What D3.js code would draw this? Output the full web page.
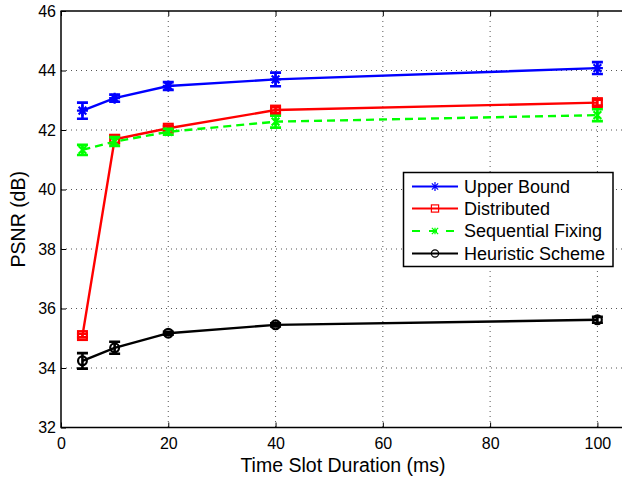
<!DOCTYPE html>
<html>
<head>
<meta charset="utf-8">
<script src="https://cdn.jsdelivr.net/npm/d3@7"></script>
<style>
  html, body { margin: 0; padding: 0; background: #fff; }
  svg { display: block; font-family: "Liberation Sans", Arial, Helvetica, sans-serif; }
</style>
</head>
<body>
<svg id="chart" width="622" height="477"></svg>
<script>
// Time slot durations (ms)
const slotDurations = [4, 10, 20, 40, 100];

// Mean PSNR (dB) per scheme
const upperBound = [42.65, 43.07, 43.48, 43.70, 44.08];
const distributed = [35.09, 41.69, 42.06, 42.67, 42.92];
const sequentialFixing = [41.33, 41.61, 41.94, 42.28, 42.50];
const heuristicScheme = [34.24, 34.68, 35.17, 35.45, 35.62];

// Half-width of the confidence interval (dB)
const upperBoundErr = [0.27, 0.12, 0.13, 0.23, 0.20];
const distributedErr = [0.06, 0.12, 0.07, 0.10, 0.10];
const sequentialFixingErr = [0.17, 0.15, 0.10, 0.20, 0.20];
const heuristicSchemeErr = [0.26, 0.20, 0.05, 0.05, 0.10];

const seriesNames = ["Upper Bound", "Distributed", "Sequential Fixing", "Heuristic Scheme"];
const xTicks = [0, 20, 40, 60, 80, 100];
const yTicks = [32, 34, 36, 38, 40, 42, 44, 46];

const series = [
  { name: seriesNames[0], values: upperBound, err: upperBoundErr, color: "#0000ff", marker: "star", dash: null },
  { name: seriesNames[1], values: distributed, err: distributedErr, color: "#ff0000", marker: "square", dash: null },
  { name: seriesNames[2], values: sequentialFixing, err: sequentialFixingErr, color: "#00ff00", marker: "x", dash: "8,5" },
  { name: seriesNames[3], values: heuristicScheme, err: heuristicSchemeErr, color: "#000000", marker: "circle", dash: null }
];

const svg = d3.select("#chart");
const plotLeft = 61, plotTop = 11, plotBottom = 427.5, plotRight = 640;
const x = d3.scaleLinear().domain([0, 100]).range([plotLeft, 597.4]);
const y = d3.scaleLinear().domain([32, 46]).range([plotBottom, plotTop]);

// Dotted grid
const grid = svg.append("g").attr("stroke", "#555").attr("stroke-width", 1)
  .attr("stroke-dasharray", "1,4");
xTicks.filter(t => t > 0).forEach(t => {
  grid.append("line").attr("x1", x(t)).attr("x2", x(t)).attr("y1", plotTop).attr("y2", plotBottom);
});
yTicks.filter(t => t > 32 && t < 46).forEach(t => {
  grid.append("line").attr("x1", plotLeft).attr("x2", plotRight).attr("y1", y(t)).attr("y2", y(t));
});

// Axes with inward ticks
const xAxis = svg.append("g").attr("transform", `translate(0,${plotBottom})`)
  .call(d3.axisBottom(x).tickValues(xTicks).tickSizeInner(-5).tickSizeOuter(0).tickPadding(12));
const xAxisTop = svg.append("g").attr("transform", `translate(0,${plotTop})`)
  .call(d3.axisTop(x).tickValues(xTicks).tickSizeInner(-5).tickSizeOuter(0).tickFormat(""));
const yAxis = svg.append("g").attr("transform", `translate(${plotLeft},0)`)
  .call(d3.axisLeft(y).tickValues(yTicks).tickSizeInner(-5).tickSizeOuter(0).tickPadding(5));
[xAxis, xAxisTop, yAxis].forEach(g => {
  g.select(".domain").remove();
  g.selectAll(".tick line").attr("stroke", "#000").attr("stroke-width", 1);
  g.selectAll("text").attr("font-size", 16).attr("fill", "#000")
    .attr("font-family", "Liberation Sans, Arial, sans-serif");
});
xAxis.selectAll("text").attr("dy", "0.6em");
svg.append("line").attr("x1", plotLeft - 0.5).attr("x2", plotRight).attr("y1", plotBottom).attr("y2", plotBottom)
  .attr("stroke", "#000").attr("stroke-width", 1.5);
svg.append("line").attr("x1", plotLeft - 0.5).attr("x2", plotRight).attr("y1", plotTop).attr("y2", plotTop)
  .attr("stroke", "#000").attr("stroke-width", 1.5);
svg.append("line").attr("x1", plotLeft).attr("x2", plotLeft).attr("y1", plotTop).attr("y2", plotBottom)
  .attr("stroke", "#000").attr("stroke-width", 1.5);

// Axis titles
svg.append("text").attr("x", 343).attr("y", 472).attr("text-anchor", "middle")
  .attr("font-size", 19.5).text("Time Slot Duration (ms)");
svg.append("text").attr("transform", `translate(25,${(plotTop + plotBottom) / 2}) rotate(-90)`)
  .attr("text-anchor", "middle").attr("font-size", 19.5).text("PSNR (dB)");

function drawMarker(g, cx, cy, type, color, size, sw) {
  const s = size;
  if (type === "star") {
    g.append("path").attr("d",
      `M${cx - s},${cy}L${cx + s},${cy}M${cx},${cy - s}L${cx},${cy + s}` +
      `M${cx - s * 0.7},${cy - s * 0.7}L${cx + s * 0.7},${cy + s * 0.7}` +
      `M${cx - s * 0.7},${cy + s * 0.7}L${cx + s * 0.7},${cy - s * 0.7}`)
      .attr("stroke", color).attr("stroke-width", sw).attr("fill", "none");
  } else if (type === "square") {
    g.append("rect").attr("x", cx - s * 0.8).attr("y", cy - s * 0.8)
      .attr("width", s * 1.6).attr("height", s * 1.6)
      .attr("stroke", color).attr("stroke-width", sw).attr("fill", "none");
  } else if (type === "x") {
    g.append("path").attr("d",
      `M${cx - s * 0.7},${cy - s * 0.7}L${cx + s * 0.7},${cy + s * 0.7}` +
      `M${cx - s * 0.7},${cy + s * 0.7}L${cx + s * 0.7},${cy - s * 0.7}M${cx},${cy - s * 0.7}L${cx},${cy + s * 0.7}`)
      .attr("stroke", color).attr("stroke-width", sw).attr("fill", "none");
  } else if (type === "circle") {
    g.append("circle").attr("cx", cx).attr("cy", cy).attr("r", s * 0.8)
      .attr("stroke", color).attr("stroke-width", sw).attr("fill", "none");
  }
}

const line = d3.line().x(d => x(d[0])).y(d => y(d[1]));
const capHalf = 5.5;

series.forEach(s => {
  const g = svg.append("g");
  const pts = slotDurations.map((t, i) => [t, s.values[i]]);
  g.append("path").datum(pts).attr("d", line).attr("fill", "none")
    .attr("stroke", s.color).attr("stroke-width", 2.4)
    .attr("stroke-dasharray", s.dash);
  pts.forEach((p, i) => {
    const cx = x(p[0]);
    const lo = y(p[1] - s.err[i]), hi = y(p[1] + s.err[i]);
    g.append("path").attr("d",
      `M${cx},${hi}L${cx},${lo}M${cx - capHalf},${hi}L${cx + capHalf},${hi}M${cx - capHalf},${lo}L${cx + capHalf},${lo}`)
      .attr("stroke", s.color).attr("stroke-width", 2.6).attr("fill", "none");
    drawMarker(g, cx, y(p[1]), s.marker, s.color, 5.5, 2.2);
  });
});

// Legend
const lg = svg.append("g");
lg.append("rect").attr("x", 403.5).attr("y", 172.5).attr("width", 209.5).attr("height", 94)
  .attr("fill", "#fff").attr("stroke", "#000").attr("stroke-width", 1.5);
const rowY = [186.5, 208.5, 231, 253.5];
series.forEach((s, i) => {
  const ly = rowY[i];
  lg.append("line").attr("x1", 412).attr("x2", 458).attr("y1", ly).attr("y2", ly)
    .attr("stroke", s.color).attr("stroke-width", 2)
    .attr("stroke-dasharray", s.dash ? "8,9" : null);
  drawMarker(lg, 435, ly, s.marker, s.color, 4.5, 1.2);
  lg.append("text").attr("x", 464).attr("y", ly).attr("dy", "0.36em")
    .attr("font-size", 18).text(s.name);
});
</script>
</body>
</html>
